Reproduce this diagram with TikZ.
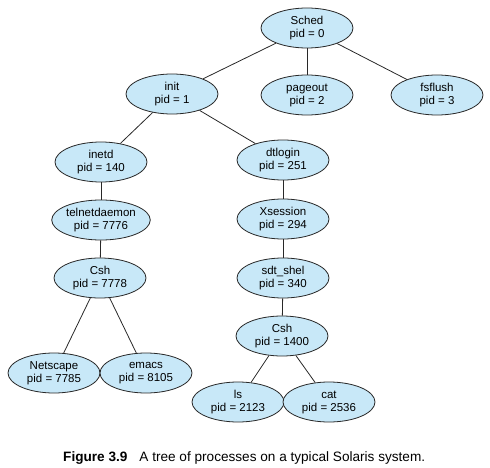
\documentclass[tikz,border=0pt]{standalone}
\usepackage{fontspec}
\setmainfont{Liberation Sans}
\usetikzlibrary{shapes.geometric}
\definecolor{procfill}{RGB}{200,232,248}
\definecolor{procline}{RGB}{40,40,40}
\begin{document}
\begin{tikzpicture}[x=1pt,y=-1pt,
  proc/.style={ellipse,draw=procline,line width=0.8pt,fill=procfill,
    minimum width=92pt,minimum height=40pt,inner sep=0pt,align=center,
    font=\fontsize{11.5}{13}\selectfont},
  link/.style={draw=procline,line width=0.8pt}]
\useasboundingbox (0,0) rectangle (490,468);
\node[proc] (sched) at (307,28) {Sched\\pid = 0};
\node[proc] (init) at (172,94) {init\\pid = 1};
\node[proc] (pageout) at (307,95) {pageout\\pid = 2};
\node[proc] (fsflush) at (437,95) {fsflush\\pid = 3};
\node[proc] (inetd) at (101,162) {inetd\\pid = 140};
\node[proc] (dtlogin) at (283,160) {dtlogin\\pid = 251};
\node[proc] (telnet) at (101,220) {telnetdaemon\\pid = 7776};
\node[proc] (xsession) at (283,219) {Xsession\\pid = 294};
\node[proc] (cshA) at (100,278) {Csh\\pid = 7778};
\node[proc] (sdt) at (283,278) {sdt\_shel\\pid = 340};
\node[proc] (netscape) at (54,373) {Netscape\\pid = 7785};
\node[proc] (emacs) at (146,373) {emacs\\pid = 8105};
\node[proc] (cshB) at (282,336) {Csh\\pid = 1400};
\node[proc] (ls) at (238,402) {ls\\pid = 2123};
\node[proc] (cat) at (329,402) {cat\\pid = 2536};
\draw[link] (sched) -- (init);
\draw[link] (sched) -- (pageout);
\draw[link] (sched) -- (fsflush);
\draw[link] (init) -- (inetd);
\draw[link] (init) -- (dtlogin);
\draw[link] (inetd) -- (telnet);
\draw[link] (telnet) -- (cshA);
\draw[link] (cshA) -- (netscape);
\draw[link] (cshA) -- (emacs);
\draw[link] (dtlogin) -- (xsession);
\draw[link] (xsession) -- (sdt);
\draw[link] (sdt) -- (cshB);
\draw[link] (cshB) -- (ls);
\draw[link] (cshB) -- (cat);
\node[anchor=west,inner sep=0pt,font=\fontsize{13.6}{15}\selectfont] (caption) at (63,458)
  {\textbf{Figure 3.9}\hspace{12pt}A tree of processes on a typical Solaris system.};
\end{tikzpicture}
\end{document}
